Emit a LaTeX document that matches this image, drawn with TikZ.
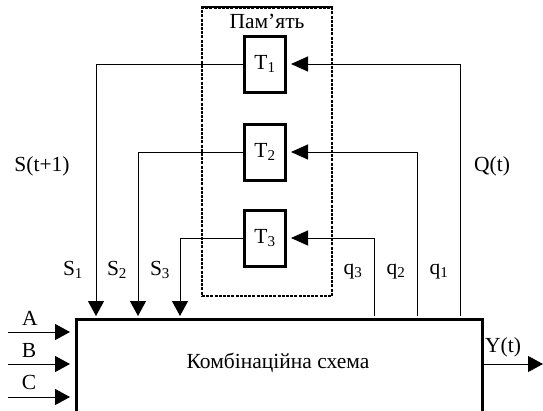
\documentclass[tikz,border=0pt]{standalone}
\usepackage{fontspec}
\setmainfont{Liberation Serif}
\usetikzlibrary{arrows.meta,positioning}
\tikzset{
  fsm/trig/.style={
    draw,
    line width=3pt,
    minimum width=41pt,
    minimum height=56pt,
    inner sep=0pt,
    font=\fontsize{21.5}{24}\selectfont
  },
  fsm/mem/.style={
    draw,
    line width=1.6pt,
    dash pattern=on 3pt off 1.2pt,
    minimum width=130pt,
    minimum height=288pt,
    inner sep=0pt
  },
  fsm/comb/.style={
    draw,
    line width=3.5pt,
    minimum width=406pt,
    minimum height=150pt,
    inner sep=0pt
  },
  fsm/label/.style={font=\fontsize{21.5}{24}\selectfont, inner sep=0pt},
  fsm/wire/.style={line width=1pt},
  fsm/arrow/.style={-{Triangle[length=15pt,width=16pt]}, line width=1pt},
  fsm/backarrow/.style={-{Triangle[length=17pt,width=15pt]}, line width=1pt, shorten >=4pt}
}
\begin{document}
\begin{tikzpicture}[x=1pt,y=-1pt]
  \clip (0,0) rectangle (543,410);
  % memory block
  \node[fsm/mem] (mem) at (267,152) {};
  \draw[line width=1.6pt] (mem.north west) -- (mem.north east);
  \node[fsm/label] (memtitle) at (267,21) {Пам’ять};
  \node[fsm/trig] (t1) at (265,64) {T\textsubscript{1}};
  \node[fsm/trig] (t2) at (265,152) {T\textsubscript{2}};
  \node[fsm/trig] (t3) at (265,238) {T\textsubscript{3}};
  % combinational part
  \node[fsm/comb,anchor=north west] (comb) at (74.5,317.5) {};
  \node[fsm/label] (combtxt) at (278,363) {Комбінаційна схема};
  \coordinate (s1) at (96,316);
  \coordinate (s2) at (138,316);
  \coordinate (s3) at (180,316);
  \coordinate (q1) at (460,316);
  \coordinate (q2) at (417,316);
  \coordinate (q3) at (374,316);
  \draw[fsm/arrow] (t1.west) -| (s1);
  \draw[fsm/arrow] (t2.west) -| (s2);
  \draw[fsm/arrow] (t3.west) -| (s3);
  \draw[fsm/backarrow] (q1) |- (t1.east);
  \draw[fsm/backarrow] (q2) |- (t2.east);
  \draw[fsm/backarrow] (q3) |- (t3.east);
  % inputs and output
  \coordinate (ina) at (8,332);
  \coordinate (inb) at (8,364);
  \coordinate (inc) at (8,397);
  \coordinate (yout) at (543,364);
  \draw[fsm/arrow,shorten >=4.5pt] (ina) -- (ina -| comb.west);
  \draw[fsm/arrow,shorten >=4.5pt] (inb) -- (inb -| comb.west);
  \draw[fsm/arrow,shorten >=4.5pt] (inc) -- (inc -| comb.west);
  \draw[fsm/arrow] (comb.east |- yout) -- (yout);
  % labels
  \node[fsm/label] (la) at (30,318) {A};
  \node[fsm/label] (lb) at (29,350) {B};
  \node[fsm/label] (lc) at (29,382) {C};
  \node[fsm/label] (ly) at (503,347) {Y(t)};
  \node[fsm/label] (lst) at (42,166) {S(t+1)};
  \node[fsm/label] (lqt) at (492,166) {Q(t)};
  \node[fsm/label] (ls1) at (73,270) {S\textsubscript{1}};
  \node[fsm/label] (ls2) at (117,270) {S\textsubscript{2}};
  \node[fsm/label] (ls3) at (160,270) {S\textsubscript{3}};
  \node[fsm/label] (lq3) at (353,272) {q\textsubscript{3}};
  \node[fsm/label] (lq2) at (396,272) {q\textsubscript{2}};
  \node[fsm/label] (lq1) at (439,272) {q\textsubscript{1}};
\end{tikzpicture}
\end{document}
